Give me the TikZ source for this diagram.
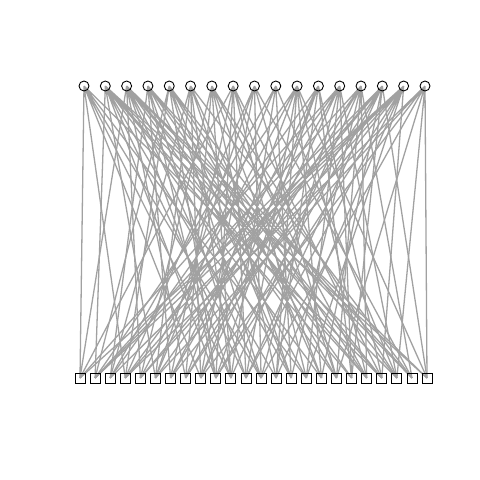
\documentclass[tikz,border=0pt]{standalone}
\usetikzlibrary{backgrounds}
\newlength{\du}
\setlength{\du}{0.6pt}
\definecolor{dialinecolor}{rgb}{0.000000, 0.000000, 0.000000}
\definecolor{edgecolor}{rgb}{0.630000, 0.630000, 0.630000}
\tikzset{
  topvertex/.style={circle, draw=dialinecolor, line width=0.9\du, inner sep=0pt, minimum size=10\du},
  botvertex/.style={rectangle, draw=dialinecolor, line width=0.9\du, inner sep=0pt, minimum size=10\du},
  edge/.style={draw=edgecolor, line width=1.3\du}
}

\begin{document}
\begin{tikzpicture}
\pgftransformxscale{1.000000}
\pgftransformyscale{-1.000000}
\useasboundingbox (0\du,0\du) rectangle (480\du,480\du);
% top row
\node[topvertex] (t0) at (84.000000\du,86.000000\du){};
\node[topvertex] (t1) at (105.310000\du,86.000000\du){};
\node[topvertex] (t2) at (126.620000\du,86.000000\du){};
\node[topvertex] (t3) at (147.930000\du,86.000000\du){};
\node[topvertex] (t4) at (169.240000\du,86.000000\du){};
\node[topvertex] (t5) at (190.550000\du,86.000000\du){};
\node[topvertex] (t6) at (211.860000\du,86.000000\du){};
\node[topvertex] (t7) at (233.170000\du,86.000000\du){};
\node[topvertex] (t8) at (254.480000\du,86.000000\du){};
\node[topvertex] (t9) at (275.790000\du,86.000000\du){};
\node[topvertex] (t10) at (297.100000\du,86.000000\du){};
\node[topvertex] (t11) at (318.410000\du,86.000000\du){};
\node[topvertex] (t12) at (339.720000\du,86.000000\du){};
\node[topvertex] (t13) at (361.030000\du,86.000000\du){};
\node[topvertex] (t14) at (382.340000\du,86.000000\du){};
\node[topvertex] (t15) at (403.650000\du,86.000000\du){};
\node[topvertex] (t16) at (425.000000\du,86.000000\du){};
% bottom row
\node[botvertex] (b0) at (80.000000\du,378.000000\du){};
\node[botvertex] (b1) at (95.090000\du,378.000000\du){};
\node[botvertex] (b2) at (110.180000\du,378.000000\du){};
\node[botvertex] (b3) at (125.270000\du,378.000000\du){};
\node[botvertex] (b4) at (140.360000\du,378.000000\du){};
\node[botvertex] (b5) at (155.450000\du,378.000000\du){};
\node[botvertex] (b6) at (170.540000\du,378.000000\du){};
\node[botvertex] (b7) at (185.630000\du,378.000000\du){};
\node[botvertex] (b8) at (200.720000\du,378.000000\du){};
\node[botvertex] (b9) at (215.810000\du,378.000000\du){};
\node[botvertex] (b10) at (230.900000\du,378.000000\du){};
\node[botvertex] (b11) at (245.990000\du,378.000000\du){};
\node[botvertex] (b12) at (261.080000\du,378.000000\du){};
\node[botvertex] (b13) at (276.170000\du,378.000000\du){};
\node[botvertex] (b14) at (291.260000\du,378.000000\du){};
\node[botvertex] (b15) at (306.350000\du,378.000000\du){};
\node[botvertex] (b16) at (321.440000\du,378.000000\du){};
\node[botvertex] (b17) at (336.530000\du,378.000000\du){};
\node[botvertex] (b18) at (351.620000\du,378.000000\du){};
\node[botvertex] (b19) at (366.710000\du,378.000000\du){};
\node[botvertex] (b20) at (381.800000\du,378.000000\du){};
\node[botvertex] (b21) at (396.890000\du,378.000000\du){};
\node[botvertex] (b22) at (411.980000\du,378.000000\du){};
\node[botvertex] (b23) at (427.000000\du,378.000000\du){};
% edges
\begin{scope}[on background layer]
\draw[edge] (t0.center)--(b0.center) (t0.center)--(b3.center) (t0.center)--(b8.center) (t0.center)--(b12.center) (t0.center)--(b15.center) (t0.center)--(b20.center) (t0.center)--(b10.center);
\draw[edge] (t1.center)--(b1.center) (t1.center)--(b5.center) (t1.center)--(b9.center) (t1.center)--(b13.center) (t1.center)--(b16.center) (t1.center)--(b18.center) (t1.center)--(b21.center) (t1.center)--(b23.center) (t1.center)--(b11.center) (t1.center)--(b19.center);
\draw[edge] (t2.center)--(b0.center) (t2.center)--(b4.center) (t2.center)--(b7.center) (t2.center)--(b10.center) (t2.center)--(b14.center) (t2.center)--(b17.center) (t2.center)--(b19.center) (t2.center)--(b22.center) (t2.center)--(b23.center) (t2.center)--(b12.center) (t2.center)--(b20.center);
\draw[edge] (t3.center)--(b2.center) (t3.center)--(b6.center) (t3.center)--(b11.center) (t3.center)--(b15.center) (t3.center)--(b18.center) (t3.center)--(b20.center) (t3.center)--(b22.center) (t3.center)--(b9.center);
\draw[edge] (t4.center)--(b1.center) (t4.center)--(b3.center) (t4.center)--(b9.center) (t4.center)--(b12.center) (t4.center)--(b17.center) (t4.center)--(b21.center) (t4.center)--(b14.center) (t4.center)--(b19.center);
\draw[edge] (t5.center)--(b2.center) (t5.center)--(b5.center) (t5.center)--(b8.center) (t5.center)--(b14.center) (t5.center)--(b16.center) (t5.center)--(b22.center) (t5.center)--(b10.center);
\draw[edge] (t6.center)--(b4.center) (t6.center)--(b7.center) (t6.center)--(b10.center) (t6.center)--(b13.center) (t6.center)--(b19.center) (t6.center)--(b16.center) (t6.center)--(b21.center);
\draw[edge] (t7.center)--(b0.center) (t7.center)--(b6.center) (t7.center)--(b9.center) (t7.center)--(b11.center) (t7.center)--(b15.center) (t7.center)--(b20.center) (t7.center)--(b17.center);
\draw[edge] (t8.center)--(b3.center) (t8.center)--(b8.center) (t8.center)--(b12.center) (t8.center)--(b17.center) (t8.center)--(b22.center) (t8.center)--(b5.center);
\draw[edge] (t9.center)--(b5.center) (t9.center)--(b10.center) (t9.center)--(b14.center) (t9.center)--(b21.center) (t9.center)--(b2.center);
\draw[edge] (t10.center)--(b1.center) (t10.center)--(b4.center) (t10.center)--(b7.center) (t10.center)--(b11.center) (t10.center)--(b16.center) (t10.center)--(b19.center) (t10.center)--(b23.center) (t10.center)--(b13.center);
\draw[edge] (t11.center)--(b2.center) (t11.center)--(b6.center) (t11.center)--(b9.center) (t11.center)--(b13.center) (t11.center)--(b18.center) (t11.center)--(b20.center) (t11.center)--(b8.center);
\draw[edge] (t12.center)--(b0.center) (t12.center)--(b3.center) (t12.center)--(b8.center) (t12.center)--(b12.center) (t12.center)--(b15.center) (t12.center)--(b21.center) (t12.center)--(b6.center) (t12.center)--(b18.center);
\draw[edge] (t13.center)--(b5.center) (t13.center)--(b10.center) (t13.center)--(b14.center) (t13.center)--(b17.center) (t13.center)--(b19.center) (t13.center)--(b22.center) (t13.center)--(b1.center) (t13.center)--(b7.center);
\draw[edge] (t14.center)--(b1.center) (t14.center)--(b4.center) (t14.center)--(b7.center) (t14.center)--(b11.center) (t14.center)--(b16.center) (t14.center)--(b18.center) (t14.center)--(b23.center) (t14.center)--(b3.center) (t14.center)--(b9.center);
\draw[edge] (t15.center)--(b0.center) (t15.center)--(b2.center) (t15.center)--(b6.center) (t15.center)--(b9.center) (t15.center)--(b13.center) (t15.center)--(b15.center) (t15.center)--(b20.center) (t15.center)--(b4.center) (t15.center)--(b11.center) (t15.center)--(b1.center);
\draw[edge] (t16.center)--(b3.center) (t16.center)--(b8.center) (t16.center)--(b12.center) (t16.center)--(b17.center) (t16.center)--(b21.center) (t16.center)--(b23.center) (t16.center)--(b5.center);
\end{scope}
\end{tikzpicture}
\end{document}
